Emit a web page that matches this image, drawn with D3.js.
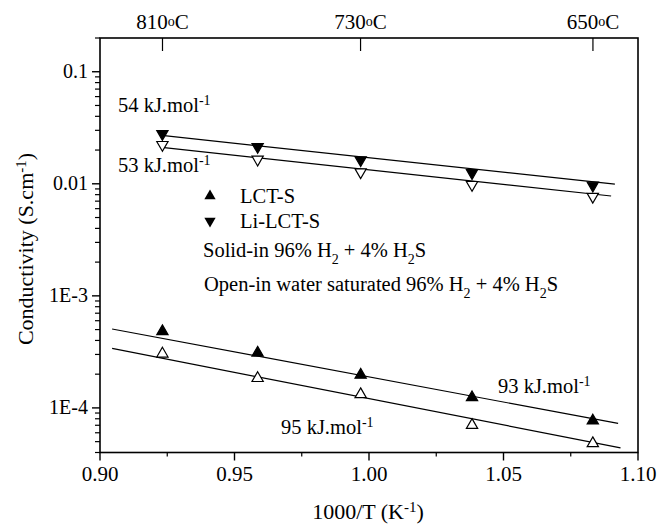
<!DOCTYPE html>
<html><head><meta charset="utf-8">
<script src="https://cdn.jsdelivr.net/npm/d3@7"></script>
<style>
body{margin:0;background:#fff}
svg text{font-family:'Liberation Serif','Times New Roman',serif;fill:#000}
</style>
</head><body>
<svg id="chart" width="661" height="526"></svg>
<script>
// ---- data ----
const xVals = [0.9232, 0.9586, 0.9969, 1.0383, 1.0832];        // 1000/T
const lctSolid = [4.82e-4, 3.10e-4, 1.97e-4, 1.24e-4, 7.69e-5];
const lctOpen  = [3.04e-4, 1.84e-4, 1.32e-4, 7.02e-5, 4.82e-5];
const liSolid  = [0.0279, 0.0214, 0.0163, 0.0125, 0.00966];
const liOpen   = [0.0223, 0.0165, 0.0127, 0.0098, 0.00769];
// fitted Arrhenius lines (end points)
const fitLiSolidX = [0.923, 1.0914],  fitLiSolidY = [0.0270, 0.00994];
const fitLiOpenX  = [0.923, 1.0900],  fitLiOpenY  = [0.0211, 0.00778];
const fitLctSolidX = [0.9045, 1.0926], fitLctSolidY = [5.06e-4, 7.27e-5];
const fitLctOpenX  = [0.9045, 1.0935], fitLctOpenY  = [3.40e-4, 4.40e-5];
const xTicks = [0.90, 0.95, 1.00, 1.05, 1.10];
const xMinorTicks = [0.925, 0.975, 1.025, 1.075];
const yTicks = [0.1, 0.01, 1e-3, 1e-4];
const yTickLabels = ["0.1", "0.01", "1E-3", "1E-4"];
const topTempsC = [810, 730, 650];
const energyLabels = ["54", "53", "93", "95"];

// ---- layout ----
const svg = d3.select("#chart");
const L = 100, R = 638, T = 38, B = 452.5;
const x = d3.scaleLinear().domain([0.90, 1.10]).range([L, R]);
const y = d3.scaleLog().domain([4e-5, 0.2]).range([B, T]);
const FS = 21, SS = 14;

// frame
svg.append("rect").attr("x", L).attr("y", T).attr("width", R - L).attr("height", B - T)
  .attr("fill", "none").attr("stroke", "#000").attr("stroke-width", 1.6);

// bottom axis
const gx = svg.append("g");
xTicks.forEach(v => {
  gx.append("line").attr("x1", x(v)).attr("x2", x(v)).attr("y1", B).attr("y2", B + 8)
    .attr("stroke", "#000").attr("stroke-width", 1.4);
  gx.append("text").attr("x", x(v)).attr("y", 481).attr("text-anchor", "middle")
    .attr("font-size", FS).text(v.toFixed(2));
});
xMinorTicks.forEach(v => {
  gx.append("line").attr("x1", x(v)).attr("x2", x(v)).attr("y1", B).attr("y2", B + 4)
    .attr("stroke", "#000").attr("stroke-width", 1.2);
});

// left axis
const gy = svg.append("g");
yTicks.forEach((v, i) => {
  gy.append("line").attr("x1", L - 8).attr("x2", L).attr("y1", y(v)).attr("y2", y(v))
    .attr("stroke", "#000").attr("stroke-width", 1.4);
  gy.append("text").attr("x", L - 12).attr("y", y(v) + 6.5).attr("text-anchor", "end")
    .attr("font-size", 20).text(yTickLabels[i]);
});
const minor = [];
[-5, -4, -3, -2, -1].forEach(e => { for (let k = 2; k <= 9; k++) { const v = k * Math.pow(10, e); if (v >= 4e-5 && v <= 0.2) minor.push(v); } });
minor.forEach(v => {
  gy.append("line").attr("x1", L - 5).attr("x2", L).attr("y1", y(v)).attr("y2", y(v))
    .attr("stroke", "#000").attr("stroke-width", 1.2);
});

// top axis (temperature)
topTempsC.forEach(tc => {
  const xv = 1000 / (tc + 273.15);
  svg.append("line").attr("x1", x(xv)).attr("x2", x(xv)).attr("y1", T).attr("y2", T + 13)
    .attr("stroke", "#000").attr("stroke-width", 1.2);
  const t = svg.append("text").attr("x", x(xv)).attr("y", 29).attr("text-anchor", "middle")
    .attr("font-size", FS);
  t.append("tspan").text(String(tc));
  t.append("tspan").attr("font-size", SS).attr("dy", -3).text("o");
  t.append("tspan").attr("dy", 3).text("C");
});

// axis titles
const xt = svg.append("text").attr("x", 368).attr("y", 519).attr("text-anchor", "middle").attr("font-size", 22);
xt.append("tspan").text("1000/T (K");
xt.append("tspan").attr("font-size", 15).attr("dy", -7).text("-1");
xt.append("tspan").attr("dy", 7).text(")");
const yt = svg.append("text").attr("transform", "translate(33,249) rotate(-90)")
  .attr("text-anchor", "middle").attr("font-size", 22);
yt.append("tspan").text("Conductivity (S.cm");
yt.append("tspan").attr("font-size", 15).attr("dy", -7).text("-1");
yt.append("tspan").attr("dy", 7).text(")");

// fit lines
const line = d3.line().x(d => x(d[0])).y(d => y(d[1]));
[[fitLiSolidX, fitLiSolidY], [fitLiOpenX, fitLiOpenY], [fitLctSolidX, fitLctSolidY], [fitLctOpenX, fitLctOpenY]]
  .forEach(([xs, ys]) => {
    svg.append("path").attr("d", line(xs.map((v, i) => [v, ys[i]])))
      .attr("fill", "none").attr("stroke", "#000").attr("stroke-width", 1.2);
  });

// markers
const tri = d3.symbol().type(d3.symbolTriangle).size(55);
function drawSeries(vals, filled, down) {
  svg.append("g").selectAll("path").data(vals).join("path")
    .attr("d", tri)
    .attr("transform", (d, i) => `translate(${x(xVals[i])},${y(d)})` + (down ? " rotate(180)" : ""))
    .attr("fill", filled ? "#000" : "#fff").attr("stroke", "#000").attr("stroke-width", 1.2);
}
drawSeries(liSolid, true, true);
drawSeries(liOpen, false, true);
drawSeries(lctSolid, true, false);
drawSeries(lctOpen, false, false);

// energy labels
function eLabel(txt, px, py) {
  const t = svg.append("text").attr("x", px).attr("y", py).attr("font-size", 20.5);
  t.append("tspan").text(txt + " kJ.mol");
  t.append("tspan").attr("font-size", SS).attr("dy", -7).text("-1");
}
eLabel(energyLabels[0], 118, 112);
eLabel(energyLabels[1], 118, 172);
eLabel(energyLabels[2], 498, 393);
eLabel(energyLabels[3], 281, 434);

// legend
const LF = 20.5;
const lg = svg.append("g");
lg.append("path").attr("d", tri).attr("transform", "translate(210,196)").attr("fill", "#000");
lg.append("text").attr("x", 240).attr("y", 203).attr("font-size", LF).text("LCT-S");
lg.append("path").attr("d", tri).attr("transform", "translate(210,221) rotate(180)").attr("fill", "#000");
lg.append("text").attr("x", 240).attr("y", 228).attr("font-size", LF).text("Li-LCT-S");
function gasText(prefix, px, py) {
  const t = lg.append("text").attr("x", px).attr("y", py).attr("font-size", LF);
  t.append("tspan").text(prefix + " 96% H");
  t.append("tspan").attr("font-size", SS).attr("dy", 7).text("2");
  t.append("tspan").attr("dy", -7).text(" + 4% H");
  t.append("tspan").attr("font-size", SS).attr("dy", 7).text("2");
  t.append("tspan").attr("dy", -7).text("S");
}
gasText("Solid-in", 203, 257);
gasText("Open-in water saturated", 204, 291);
</script>
</body></html>
